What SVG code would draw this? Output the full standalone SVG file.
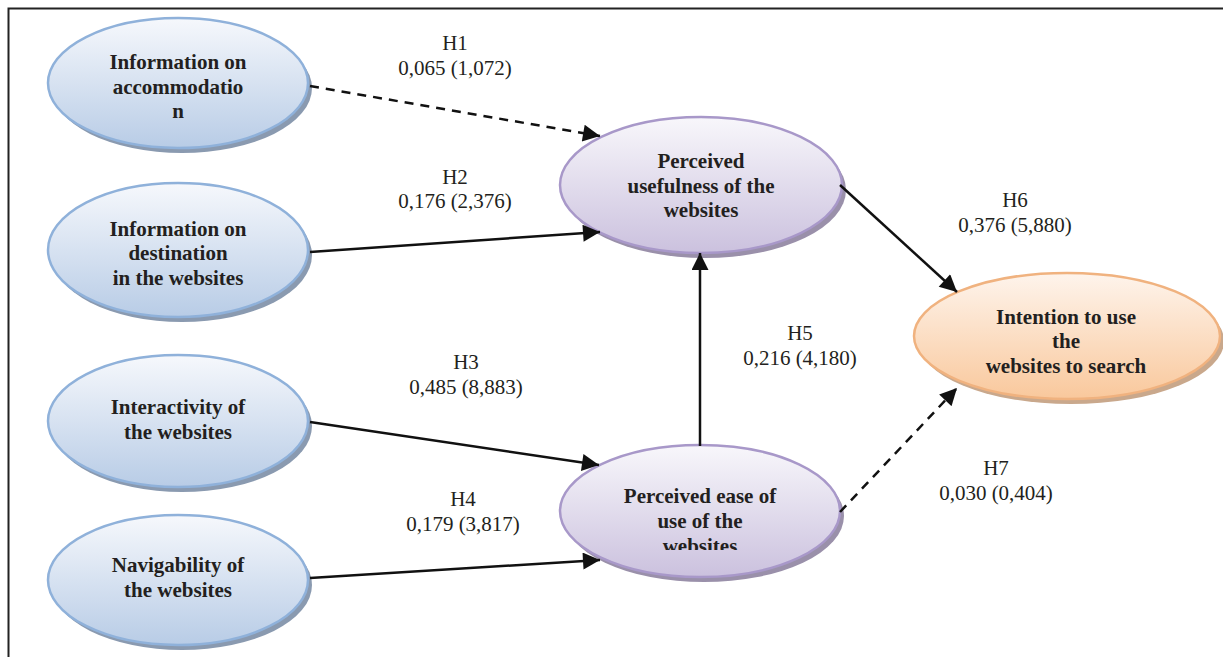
<svg xmlns="http://www.w3.org/2000/svg" width="1223" height="657" viewBox="0 0 1223 657">
<defs>
<linearGradient id="gb" x1="0" y1="0" x2="0" y2="1"><stop offset="0" stop-color="#f6f8fc"/><stop offset="1" stop-color="#b8cce6"/></linearGradient>
<linearGradient id="gp" x1="0" y1="0" x2="0" y2="1"><stop offset="0" stop-color="#f8f7fb"/><stop offset="1" stop-color="#cbc1de"/></linearGradient>
<linearGradient id="go" x1="0" y1="0" x2="0" y2="1"><stop offset="0" stop-color="#fef4ec"/><stop offset="1" stop-color="#f9c89c"/></linearGradient>
<marker id="ah" viewBox="0 0 10 10" refX="10" refY="5" markerWidth="18" markerHeight="17" markerUnits="userSpaceOnUse" orient="auto"><path d="M0,0 L10,5 L0,10 z" fill="#111"/></marker>
<clipPath id="clipE"><rect x="560" y="440" width="290" height="110"/></clipPath>
</defs>
<style>
.sh{fill:#8a9ab0;}
.shp{fill:#9a90aa;}
.sho{fill:#c9a88c;}
.nb{fill:url(#gb);stroke:#8fb1da;stroke-width:2.5;}
.np{fill:url(#gp);stroke:#a898c9;stroke-width:2.5;}
.no{fill:url(#go);stroke:#f0b27f;stroke-width:2.5;}
text{font-family:'Liberation Serif','Times New Roman',Times,serif;fill:#231f20;text-anchor:middle;}
.t{font-weight:bold;font-size:21px;}
.l{font-size:21px;}
.c{stroke:#111;stroke-width:2.5;fill:none;marker-end:url(#ah);}
.d{stroke-dasharray:9,7;}
</style>
<rect width="1223" height="657" fill="#fff"/>
<path d="M8.5,657 V8.5 H1223" fill="none" stroke="#222" stroke-width="2"/>

<g id="n1">
<ellipse class="sh" cx="182" cy="88" rx="130" ry="65"/>
<ellipse class="nb" cx="178" cy="83" rx="130" ry="65"/>
<text class="t" x="178" y="69">Information on</text>
<text class="t" x="178" y="94">accommodatio</text>
<text class="t" x="178" y="118">n</text>
</g>
<g id="n2">
<ellipse class="sh" cx="182" cy="255" rx="130" ry="67"/>
<ellipse class="nb" cx="178" cy="250" rx="130" ry="67"/>
<text class="t" x="178" y="236">Information on</text>
<text class="t" x="178" y="260">destination</text>
<text class="t" x="178" y="285">in the websites</text>
</g>
<g id="n3">
<ellipse class="sh" cx="182" cy="426" rx="130" ry="66"/>
<ellipse class="nb" cx="178" cy="421" rx="130" ry="66"/>
<text class="t" x="178" y="414">Interactivity of</text>
<text class="t" x="178" y="439">the websites</text>
</g>
<g id="n4">
<ellipse class="sh" cx="182" cy="585" rx="130" ry="65"/>
<ellipse class="nb" cx="178" cy="580" rx="130" ry="65"/>
<text class="t" x="178" y="572">Navigability of</text>
<text class="t" x="178" y="597">the websites</text>
</g>
<g id="pu">
<ellipse class="shp" cx="705" cy="190" rx="141" ry="68"/>
<ellipse class="np" cx="701" cy="185" rx="141" ry="68"/>
<text class="t" x="701" y="168">Perceived</text>
<text class="t" x="701" y="193">usefulness of the</text>
<text class="t" x="701" y="217">websites</text>
</g>
<g id="peou">
<ellipse class="shp" cx="704" cy="516" rx="140" ry="66"/>
<ellipse class="np" cx="700" cy="511" rx="140" ry="66"/>
<g clip-path="url(#clipE)">
<text class="t" x="700" y="503">Perceived ease of</text>
<text class="t" x="700" y="528">use of the</text>
<text class="t" x="700" y="553">websites</text>
</g>
</g>
<g id="iu">
<ellipse class="sho" cx="1071" cy="341" rx="153" ry="63"/>
<ellipse class="no" cx="1067" cy="336" rx="153" ry="63"/>
<text class="t" x="1066" y="324">Intention to use</text>
<text class="t" x="1066" y="348">the</text>
<text class="t" x="1066" y="373">websites to search</text>
</g>

<g id="connectors">
<line class="c d" x1="310" y1="86" x2="600" y2="136"/>
<line class="c" x1="310" y1="252" x2="600" y2="232"/>
<line class="c" x1="310" y1="422" x2="599" y2="465"/>
<line class="c" x1="310" y1="578" x2="600" y2="560"/>
<line class="c" x1="700" y1="446" x2="700" y2="253"/>
<line class="c" x1="840" y1="185" x2="957" y2="292"/>
<line class="c d" x1="840" y1="512" x2="957" y2="388"/>
</g>

<g id="labels">
<text class="l" x="455" y="50">H1</text>
<text class="l" x="455" y="75">0,065 (1,072)</text>
<text class="l" x="455" y="184">H2</text>
<text class="l" x="455" y="208">0,176 (2,376)</text>
<text class="l" x="466" y="369">H3</text>
<text class="l" x="466" y="394">0,485 (8,883)</text>
<text class="l" x="463" y="506">H4</text>
<text class="l" x="463" y="531">0,179 (3,817)</text>
<text class="l" x="800" y="340">H5</text>
<text class="l" x="800" y="365">0,216 (4,180)</text>
<text class="l" x="1015" y="207">H6</text>
<text class="l" x="1015" y="232">0,376 (5,880)</text>
<text class="l" x="996" y="475">H7</text>
<text class="l" x="996" y="500">0,030 (0,404)</text>
</g>
</svg>
